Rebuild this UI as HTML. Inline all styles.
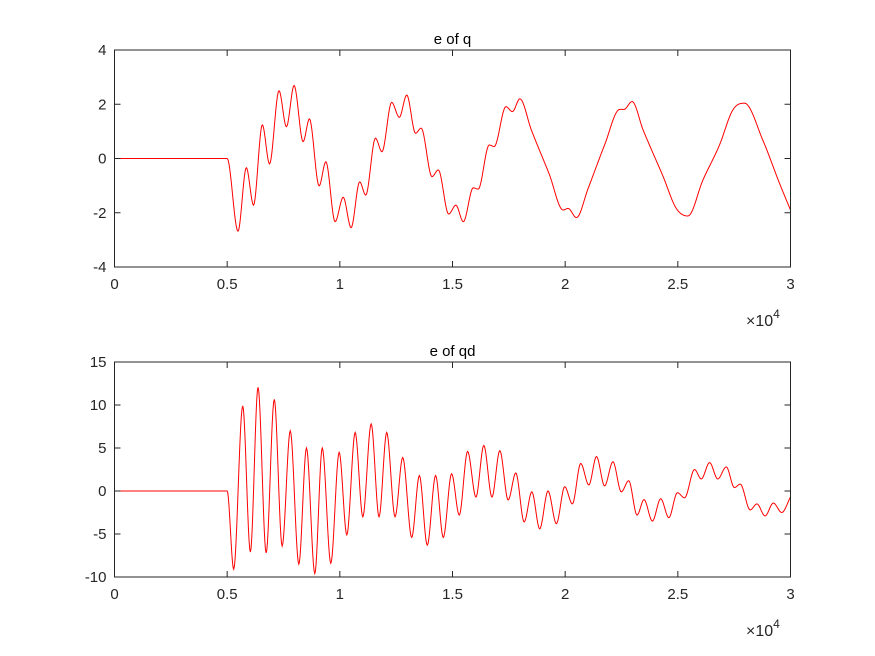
<!DOCTYPE html>
<html><head><meta charset="utf-8"><style>
body{margin:0;background:#fff;}
svg{display:block;font-family:"Liberation Sans",Arial,sans-serif;}
</style></head><body>
<svg id="fig" width="875" height="656" viewBox="0 0 875 656" xmlns="http://www.w3.org/2000/svg">
<rect width="875" height="656" fill="#fff"/>
</svg>
<script>
// x in units of 1e3 samples
const qX=[0,5,5.48,5.85,6.17,6.56,6.88,7.30,7.63,7.97,8.37,8.65,9.08,9.38,9.79,10.15,10.50,10.88,11.15,11.58,11.87,12.30,12.64,12.97,13.36,13.61,14.09,14.37,14.83,15.15,15.48,15.92,16.14,16.63,16.85,17.37,17.66,17.99,18.50,19.29,19.91,20.13,20.50,21.02,21.75,22.42,22.61,22.97,23.46,24.35,24.93,25.45,26.11,26.85,27.44,27.96,28.77,29.51,30];
const qY=[0,0,-2.68,-0.34,-1.72,1.24,-0.2,2.5,1.17,2.69,0.62,1.46,-1.01,-0.12,-2.33,-1.43,-2.55,-0.86,-1.35,0.75,0.25,2.07,1.52,2.34,0.93,1.12,-0.67,-0.42,-2.05,-1.72,-2.33,-1.08,-1.13,0.5,0.44,1.91,1.73,2.2,1.05,-0.57,-1.9,-1.84,-2.18,-1.1,0.5,1.81,1.81,2.1,1.05,-0.67,-1.84,-2.12,-0.8,0.5,1.79,2.04,0.68,-0.91,-1.9];
const qdX=[0,5,5.29,5.69,6.03,6.37,6.73,7.09,7.44,7.80,8.18,8.52,8.89,9.22,9.60,9.97,10.31,10.68,11.02,11.39,11.74,12.08,12.45,12.79,13.19,13.53,13.88,14.25,14.59,14.96,15.30,15.67,16.04,16.39,16.75,17.10,17.47,17.81,18.18,18.52,18.87,19.24,19.61,19.98,20.32,20.69,21.05,21.39,21.75,22.12,22.49,22.82,23.19,23.5,23.87,24.24,24.60,24.98,25.30,25.74,26.04,26.41,26.77,27.15,27.51,27.77,28.21,28.51,28.87,29.24,29.61,30];
const qdY=[0,0,-9.1,9.9,-7.1,12.06,-7.2,10.66,-6.4,7.0,-8.5,5.0,-9.6,5.0,-8.4,4.5,-5.1,6.8,-3.0,7.8,-3.0,6.8,-3.0,3.9,-5.4,1.8,-6.3,1.8,-5.4,2.0,-2.8,4.6,-0.7,5.3,-0.7,4.7,-1.05,2.1,-3.6,-0.1,-4.4,0.0,-3.8,0.5,-1.5,3.2,0.7,4.0,0.6,3.4,-0.1,1.2,-2.8,-1.0,-3.5,-0.9,-3.1,-0.2,-0.8,2.5,1.4,3.3,1.4,2.8,0.4,0.8,-2.2,-1.5,-2.9,-1.4,-2.5,-0.7];
const xTicks=[0,0.5,1,1.5,2,2.5,3];
const xTickLabels=["0","0.5","1","1.5","2","2.5","3"];
const qTicks=[-4,-2,0,2,4];
const qdTicks=[-10,-5,0,5,10,15];

const NS="http://www.w3.org/2000/svg";
const svg=document.getElementById('fig');
function mk(tag,attrs,parent){const e=document.createElementNS(NS,tag);for(const k in attrs)e.setAttribute(k,attrs[k]);(parent||svg).appendChild(e);return e;}

function monotone(xs,ys,n){
  const m=xs.length,d=[],t=new Array(m).fill(0);
  for(let i=0;i<m-1;i++)d.push((ys[i+1]-ys[i])/(xs[i+1]-xs[i]));
  for(let i=1;i<m-1;i++){t[i]=(d[i-1]*d[i]<=0)?0:(d[i-1]+d[i])/2;}
  t[0]=d[0];t[m-1]=d[m-2];
  for(let i=0;i<m-1;i++){if(d[i]===0){t[i]=0;t[i+1]=0;}}
  const out=[];
  for(let i=0;i<m-1;i++){const h=xs[i+1]-xs[i];
    for(let k=0;k<n;k++){const s=k/n,s2=s*s,s3=s2*s;
      const y=(2*s3-3*s2+1)*ys[i]+(s3-2*s2+s)*h*t[i]+(-2*s3+3*s2)*ys[i+1]+(s3-s2)*h*t[i+1];
      out.push([xs[i]+s*h,y]);}}
  out.push([xs[m-1],ys[m-1]]);return out;
}

function axes(name,top,bottom,ymin,ymax,yticks,title,xs,ys){
  const L=114.5,R=790.5;
  const g=mk('g',{});
  
  
  const sx=v=>L+(v-0)/(3-0)*(R-L);
  const sy=v=>bottom-(v-ymin)/(ymax-ymin)*(bottom-top);
  const pts=monotone(xs.map(v=>v/10),ys,12);
  const line=mk('path',{d:'M'+pts.map(p=>sx(p[0]).toFixed(2)+','+sy(p[1]).toFixed(2)).join('L'),fill:'none',stroke:'#ff0000','stroke-width':1},g);
  
  
  const box=mk('rect',{x:L,y:top,width:R-L,height:bottom-top,fill:'none',stroke:'#262626','stroke-width':1},g);
  
  
  xTicks.forEach((v,i)=>{const x=sx(v);
    mk('line',{x1:x,x2:x,y1:bottom,y2:bottom-6,stroke:'#262626'},g);
    mk('line',{x1:x,x2:x,y1:top,y2:top+6,stroke:'#262626'},g);
    const t=mk('text',{x:x,y:bottom+22,'text-anchor':'middle','font-size':15,fill:'#262626'},g);
    t.textContent=xTickLabels[i];
    
    
  });
  yticks.forEach(v=>{const y=sy(v);
    mk('line',{x1:L,x2:L+6,y1:y,y2:y,stroke:'#262626'},g);
    mk('line',{x1:R,x2:R-6,y1:y,y2:y,stroke:'#262626'},g);
    const t=mk('text',{x:L-8,y:y+5,'text-anchor':'end','font-size':15,fill:'#262626'},g);
    t.textContent=String(v);
    
    
  });
  const tt=mk('text',{x:(L+R)/2,y:top-6,'text-anchor':'middle','font-size':15,fill:'#000'},g);
  tt.textContent=title;
  
  
  const ex=mk('text',{x:746,y:bottom+59,'font-size':16,fill:'#262626'},g);
  ex.innerHTML='×10<tspan dy="-8" font-size="12">4</tspan>';
  
  
}
axes('top-axes',50,267,-4,4,qTicks,'e of q',qX,qY);
axes('bottom-axes',362,577,-10,15,qdTicks,'e of qd',qdX,qdY);
</script>
</body></html>
